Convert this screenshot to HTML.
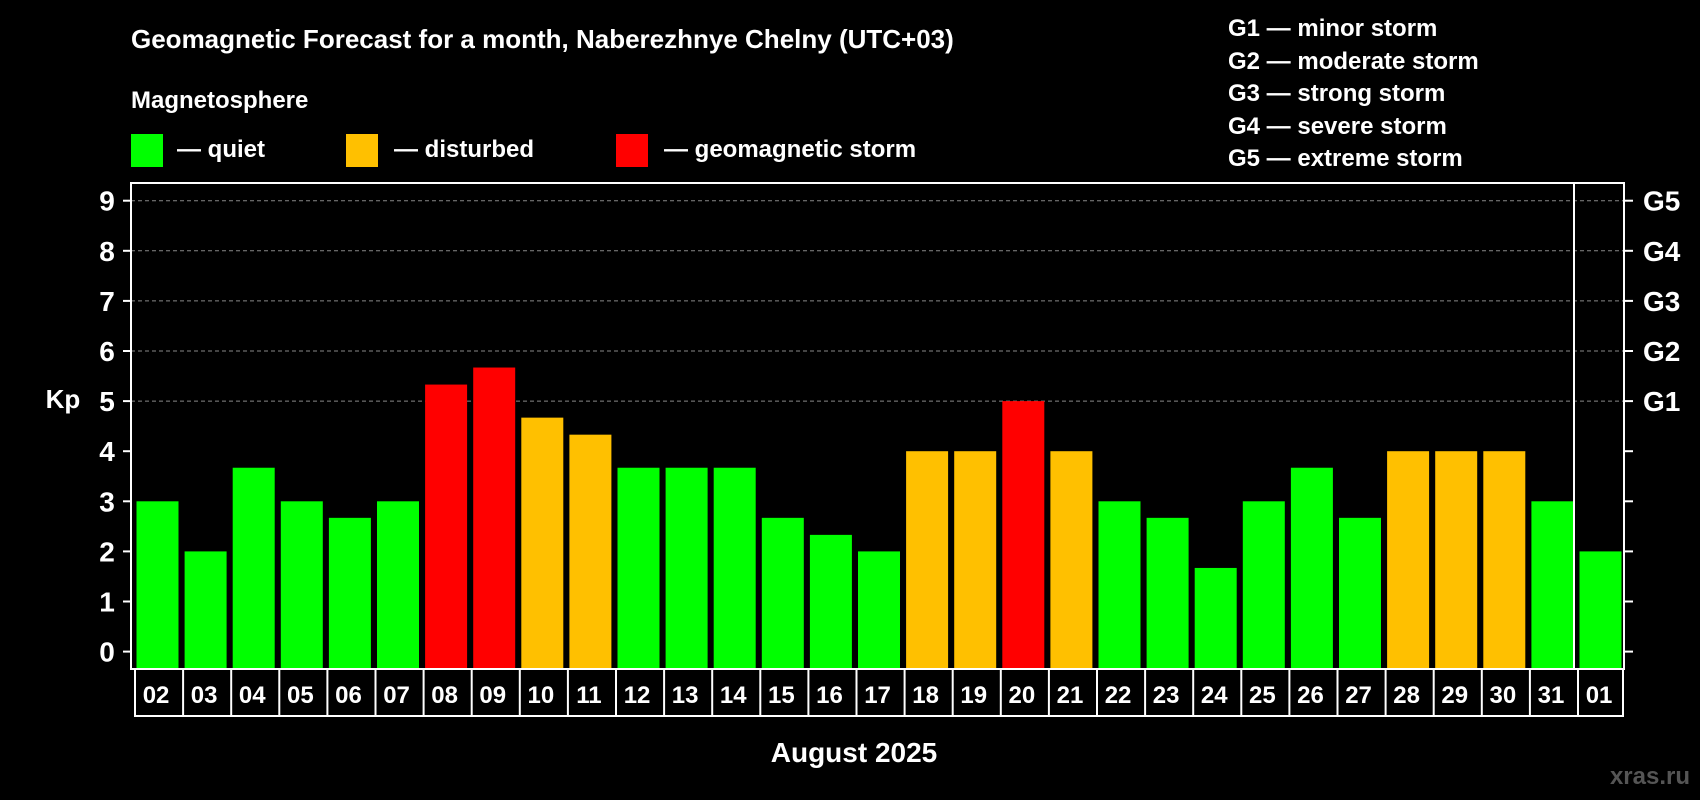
<!DOCTYPE html>
<html><head><meta charset="utf-8"><style>
body{margin:0;background:#000;width:1700px;height:800px;overflow:hidden}
svg{display:block;font-family:"Liberation Sans",sans-serif;font-weight:bold}
</style></head><body>
<svg id="c" width="1700" height="800">
<rect width="1700" height="800" fill="#000"/>
<text x="131" y="48" font-size="26" fill="#fff">Geomagnetic Forecast for a month, Naberezhnye Chelny (UTC+03)</text>
<text x="131" y="108" font-size="24" fill="#fff">Magnetosphere</text>
<g><rect x="131" y="134" width="32" height="33" fill="#00ff00"/><text x="177" y="157" font-size="24" fill="#fff">— quiet</text></g>
<g><rect x="346" y="134" width="32" height="33" fill="#ffc000"/><text x="394" y="157" font-size="24" fill="#fff">— disturbed</text></g>
<g><rect x="616" y="134" width="32" height="33" fill="#ff0000"/><text x="664" y="157" font-size="24" fill="#fff">— geomagnetic storm</text></g>
<g font-size="24" fill="#fff">
<text x="1228" y="36">G1 — minor storm</text>
<text x="1228" y="69">G2 — moderate storm</text>
<text x="1228" y="101">G3 — strong storm</text>
<text x="1228" y="134">G4 — severe storm</text>
<text x="1228" y="166">G5 — extreme storm</text>
</g>
<text x="63" y="408" font-size="26" fill="#fff" text-anchor="middle">Kp</text>
<text x="854" y="762" font-size="28" fill="#fff" text-anchor="middle">August 2025</text>
<text x="1690" y="784" font-size="24" fill="#555" text-anchor="end">xras.ru</text>
<g id="plot"></g>
</svg>
<script>
const days=["02","03","04","05","06","07","08","09","10","11","12","13","14","15","16","17","18","19","20","21","22","23","24","25","26","27","28","29","30","31","01"];
const kp=[3,2,3.67,3,2.67,3,5.33,5.67,4.67,4.33,3.67,3.67,3.67,2.67,2.33,2,4,4,5,4,3,2.67,1.67,3,3.67,2.67,4,4,4,3,2];
const yTicks=["0","1","2","3","4","5","6","7","8","9"];
const gLabels=["G1","G2","G3","G4","G5"];
const NS="http://www.w3.org/2000/svg";
const L=131,R=1624,T=183,B=669,SEP=1574,slot=(SEP-L)/30;
const y=v=>651.6-v*50.1;
const x=i=>L+i*slot;
const g=document.getElementById('plot');
function el(t,a){const e=document.createElementNS(NS,t);for(const k in a)e.setAttribute(k,a[k]);g.appendChild(e);return e;}
yTicks.forEach((t,i)=>{
 const v=+t,yy=y(v);
 if(v>=5){const l=el('line',{x1:L,x2:R,y1:yy,y2:yy,stroke:'#888','stroke-dasharray':'4,3','stroke-width':1});
 
 }
 const tk=el('line',{x1:L-8,x2:L,y1:yy,y2:yy,stroke:'#fff','stroke-width':2});
 
 
 const tr=el('line',{x1:R,x2:R+9,y1:yy,y2:yy,stroke:'#fff','stroke-width':2});
 
 
 const tx=el('text',{x:107,y:yy+10,'font-size':28,fill:'#fff','text-anchor':'middle'});tx.textContent=t;
 
 
});
gLabels.forEach((t,i)=>{
 const tx=el('text',{x:1643,y:y(5+i)+10,'font-size':28,fill:'#fff','text-anchor':'start'});tx.textContent=t;
 
 
});
kp.forEach((v,i)=>{
 const c=v>=5?'#ff0000':(v>=4?'#ffc000':'#00ff00');
 const r=el('rect',{x:x(i)+5.5,y:y(v),width:42,height:B-1-y(v),fill:c});
 
 
 const cx=x(i)+slot/2;
 const tx=el('text',{x:cx+1,y:703,'font-size':24,fill:'#fff','text-anchor':'middle'});tx.textContent=days[i];
 
 
 const s=el('line',{x1:x(i)+4,x2:x(i)+4,y1:B,y2:717,stroke:'#fff','stroke-width':2});
 
 
});
const lb=el('line',{x1:R-1,x2:R-1,y1:B,y2:717,stroke:'#fff','stroke-width':2});


const bb=el('line',{x1:L+4,x2:R-1,y1:716,y2:716,stroke:'#fff','stroke-width':2});


const fr=el('rect',{x:L,y:T,width:R-L,height:B-T,fill:'none',stroke:'#fff','stroke-width':2});


const sp=el('line',{x1:SEP,x2:SEP,y1:T,y2:B,stroke:'#fff','stroke-width':2});


</script>
</body></html>
